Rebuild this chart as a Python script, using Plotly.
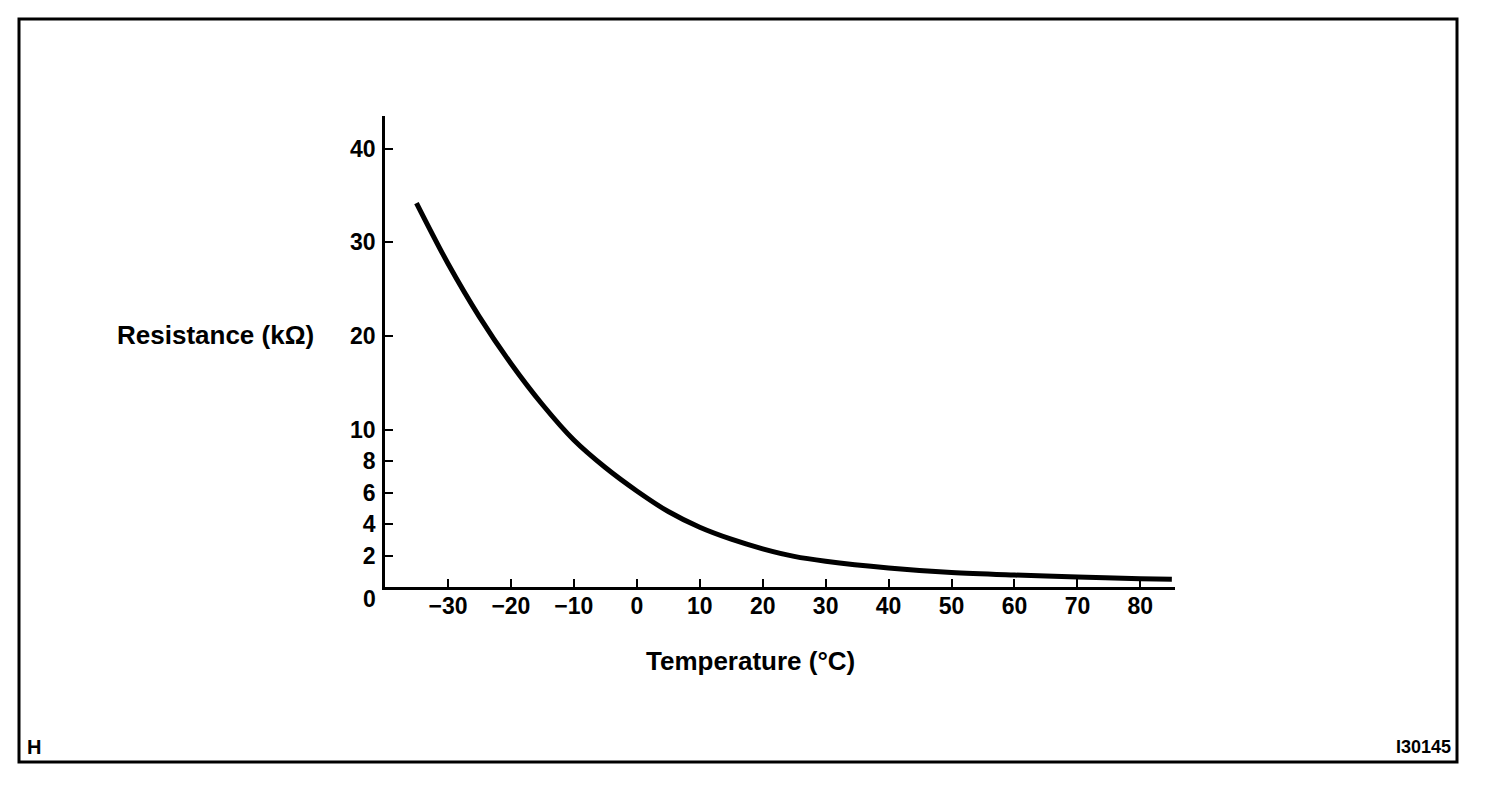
import plotly.graph_objects as go

# ---- data ----
temperature_c = [-35, -30, -25, -20, -15, -10, -5, 0, 5, 10, 15, 20, 25, 30, 40, 50, 60, 70, 80, 85]
resistance_kohm = [34.2, 27.75, 22.06, 17.08, 12.70, 9.35, 7.60, 6.11, 4.80, 3.80, 3.04, 2.43, 1.95,
                   1.64, 1.21, 0.92, 0.76, 0.64, 0.53, 0.50]

x_tick_values = [-30, -20, -10, 0, 10, 20, 30, 40, 50, 60, 70, 80]
x_tick_labels = ["\u221230", "\u221220", "\u221210", "0", "10", "20", "30", "40", "50", "60", "70", "80"]
y_tick_values = [2, 4, 6, 8, 10, 20, 30, 40]
y_tick_labels = ["2", "4", "6", "8", "10", "20", "30", "40"]

x_title = "Temperature (\u00b0C)"
y_title = "Resistance (k\u03a9)"
corner_left = "H"
corner_right = "I30145"

# ---- layout geometry (pixels in the 1504x790 window) ----
WIN_W, WIN_H = 1504, 790
OFF = 8                     # page body margin
W, H = WIN_W - 2 * OFF, WIN_H - 2 * OFF
L, R, T, B = 385, 1175, 116, 587
X_RANGE = [-40, 85.5]

# the resistance axis is drawn with a stretched scale below 10 kOhm
LOW_SCALE = 15.72   # display units per kOhm (0..10)
HIGH_SCALE = 9.37   # display units per kOhm (above 10)


def scale_r(r):
    if r <= 10:
        return r * LOW_SCALE
    return 10 * LOW_SCALE + (r - 10) * HIGH_SCALE


def pxx(px):
    return (px - L) / (R - L)


def pxy(py):
    return (B - py) / (B - T)


FONT = "Liberation Sans, Arial, Helvetica, sans-serif"

fig = go.Figure()
fig.add_trace(go.Scatter(
    x=temperature_c,
    y=[scale_r(v) for v in resistance_kohm],
    mode="lines",
    line=dict(color="black", width=5, shape="spline", smoothing=0.9),
    hoverinfo="skip",
    showlegend=False,
))

fig.update_layout(
    width=W, height=H,
    margin=dict(l=L - OFF, r=W - (R - OFF), t=T - OFF, b=H - (B - OFF), pad=0),
    paper_bgcolor="white", plot_bgcolor="white",
    showlegend=False,
    xaxis=dict(
        range=X_RANGE, showgrid=False, zeroline=False,
        showline=True, linecolor="black", linewidth=2.5,
        ticks="inside", ticklen=8, tickwidth=2, tickcolor="black",
        tickvals=x_tick_values, ticktext=x_tick_labels,
        tickfont=dict(family=FONT, size=23, color="black", weight="bold"),
        ticklabelstandoff=-3,
    ),
    yaxis=dict(
        range=[0, B - T], showgrid=False, zeroline=False,
        showline=True, linecolor="black", linewidth=2.5,
        ticks="inside", ticklen=8, tickwidth=2, tickcolor="black",
        tickvals=[scale_r(v) for v in y_tick_values], ticktext=y_tick_labels,
        tickfont=dict(family=FONT, size=23, color="black", weight="bold"),
        ticklabelstandoff=2,
    ),
)

annotations = [
    dict(text="0", x=pxx(369), y=pxy(599)),
    dict(text=y_title, x=pxx(215), y=pxy(335), size=26),
    dict(text=x_title, x=pxx(750), y=pxy(661), size=26),
    dict(text=corner_left, x=pxx(34), y=pxy(747), size=20),
    dict(text=corner_right, x=pxx(1423), y=pxy(747), size=18),
]
for a in annotations:
    fig.add_annotation(
        text=a["text"], x=a["x"], y=a["y"], xref="paper", yref="paper",
        xanchor="center", yanchor="middle", showarrow=False,
        font=dict(family=FONT, size=a.get("size", 23), color="black", weight="bold"),
    )

# outer frame of the figure
fig.add_shape(type="rect", xref="paper", yref="paper",
              x0=pxx(19), x1=pxx(1457), y0=pxy(762), y1=pxy(19),
              line=dict(color="black", width=3), fillcolor="rgba(0,0,0,0)")

fig.write_html("out.html")
